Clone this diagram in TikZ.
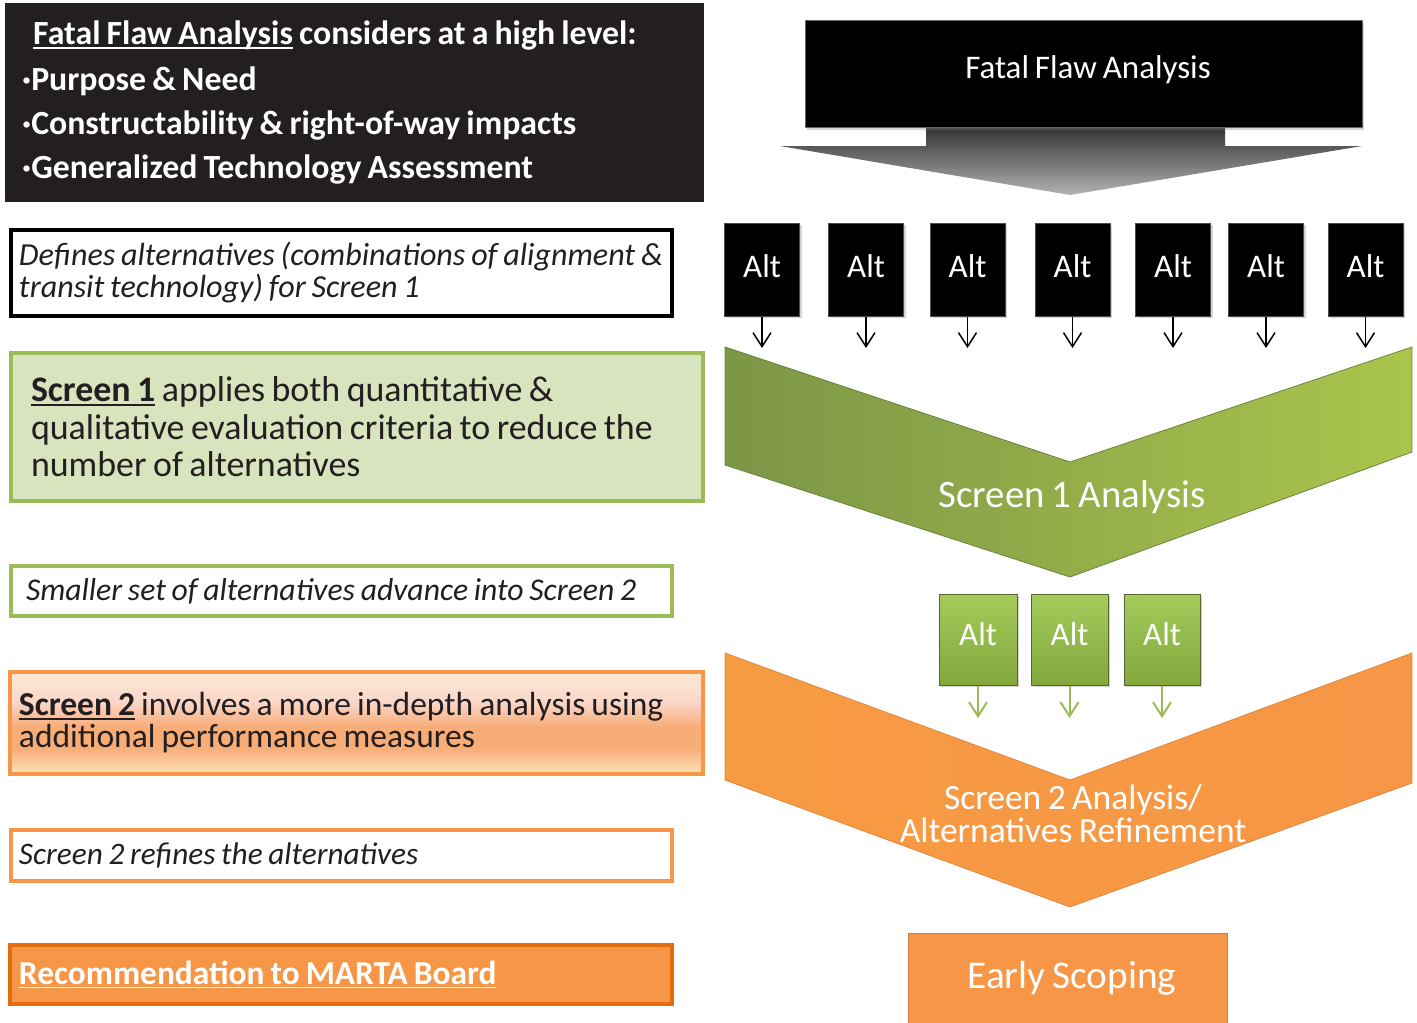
\documentclass[tikz,border=0pt]{standalone}
\usepackage{fontspec}
\setmainfont{Carlito}[WordSpace=0.8]
\usetikzlibrary{arrows.meta,shadows}
\newcommand\myul[1]{\setbox0\hbox{#1}\rlap{\rule[-4pt]{\wd0}{1.6pt}}\box0\relax}
\newcommand\natsp{\spaceskip=\fontdimen2\font\xspaceskip=\fontdimen2\font\relax}
\definecolor{charcoal}{HTML}{231F20}
\definecolor{grn}{HTML}{9BBB59}
\definecolor{grnfill}{HTML}{D7E4BD}
\definecolor{org}{HTML}{F79646}
\definecolor{orgdark}{HTML}{E46C0A}
\definecolor{txt}{HTML}{231F20}
\definecolor{galttop}{HTML}{A4CB5C}
\definecolor{galtbot}{HTML}{82A83C}
\definecolor{sa}{HTML}{FCEAD6}
\definecolor{sb}{HTML}{FAD6C8}
\definecolor{sc}{HTML}{F8AC76}
\definecolor{sd}{HTML}{FDE2BA}
\pgfdeclareverticalshading{stwoshade}{100bp}{color(0bp)=(sd); color(25bp)=(sd); color(38bp)=(sc); color(48bp)=(sc); color(60bp)=(sb); color(75bp)=(sa); color(100bp)=(sa)}
\begin{document}
\begin{tikzpicture}[x=1pt,y=-1pt,
  lbox/.style={rectangle, anchor=north west, align=left, text=txt, inner ysep=0pt},
  altbox/.style={rectangle, fill=black, draw=black!70, line width=1pt, minimum width=75pt, minimum height=93pt, drop shadow={opacity=0.35, shadow xshift=2pt, shadow yshift=-2pt}},
  galtbox/.style={rectangle, top color=galttop, bottom color=galtbot, draw=grn!55!black, line width=1pt, minimum height=91pt, drop shadow={opacity=0.35, shadow xshift=2pt, shadow yshift=-2pt}},
  alttext/.style={text=white, font=\fontsize{33}{35}\selectfont, inner sep=0pt},
  darr/.style={-{Straight Barb[length=14pt,width=18pt]}, line width=1.5pt, black},
  garr/.style={-{Straight Barb[length=14pt,width=18pt]}, line width=2pt, grn},
  wlabel/.style={text=white, align=center, inner sep=0pt}
]
\useasboundingbox (0,0) rectangle (1417,1023);

% ---------- left column ----------
\node[lbox, fill=charcoal, text=white, minimum width=699pt, minimum height=199pt, text width=665pt, inner xsep=17pt, font=\bfseries\fontsize{33.8}{44}\selectfont] (ffa) at (5,3)
{\natsp\hspace*{11pt}\myul{Fatal Flaw Analysis} considers at a high level:\\[2pt]
·Purpose \& Need\\
·Constructability \& right-of-way impacts\\
·Generalized Technology Assessment\\[-6pt]};

\node[lbox, draw=black, line width=4pt, minimum width=661pt, minimum height=86pt, text width=645pt, inner xsep=8pt, font=\itshape\fontsize{32.1}{32}\selectfont] (defs) at (9,228)
{\natsp Defines alternatives (combinations of alignment \&\\ transit technology) for Screen 1};

\node[lbox, draw=grn, fill=grnfill, line width=4pt, minimum width=692pt, minimum height=148pt, text width=652pt, inner xsep=20pt, font=\fontsize{35.9}{37.5}\selectfont] (s1) at (9,351)
{\natsp\textbf{\myul{Screen 1}} applies both quantitative \&\\ qualitative evaluation criteria to reduce the\\ number of alternatives};

\node[lbox, draw=grn, fill=white, line width=4pt, minimum width=661pt, minimum height=50pt, text width=631pt, inner xsep=15pt, font=\itshape\fontsize{31.7}{32}\selectfont] (small) at (9,564)
{\natsp Smaller set of alternatives advance into Screen 2};

\node[lbox, draw=org, line width=4pt, minimum width=693pt, minimum height=102pt, text width=675pt, inner xsep=9pt, shading=stwoshade, font=\fontsize{33.5}{32}\selectfont] (s2) at (8,670)
{\natsp\textbf{\myul{Screen 2}} involves a more in-depth analysis using\\ additional performance measures};

\node[lbox, draw=org, fill=white, line width=4pt, minimum width=661pt, minimum height=51pt, text width=645pt, inner xsep=8pt, font=\itshape\fontsize{31.3}{32}\selectfont] (refine) at (9,828)
{\natsp Screen 2 refines the alternatives};

\node[lbox, draw=orgdark, fill=org, text=white, line width=4pt, minimum width=662pt, minimum height=59pt, text width=644pt, inner xsep=9pt, font=\bfseries\fontsize{33.4}{34}\selectfont] (rec) at (8,943)
{\natsp\myul{Recommendation to MARTA Board}};

% ---------- right column ----------
\shade[top color=black!85, bottom color=black!30]
  (926,120) -- (926,146) -- (780,146) -- (1070,195) -- (1362,146) -- (1225,146) -- (1225,120) -- cycle;
\node[rectangle, fill=black, draw=black!60, line width=1pt, minimum width=557pt, minimum height=107pt, drop shadow={opacity=0.35, shadow xshift=2pt, shadow yshift=-3pt}] (ffbox) at (1083.5,73.5) {};
\node[wlabel, font=\fontsize{33}{34}\selectfont] (fftext) at (1088,70) {Fatal Flaw Analysis};

% green chevron
\shade[left color=grn!80!black, right color=grn!85!yellow, draw=grn!70!black, line width=0.8pt]
  (725,347) -- (1070,462) -- (1412,347) -- (1412,452) -- (1070,577) -- (725,465) -- cycle;
\node[wlabel, font=\fontsize{38.8}{40}\selectfont] (s1lab) at (1072,497) {Screen 1 Analysis};

% orange chevron
\shade[left color=org!95!yellow, right color=org, draw=org!90!black, line width=0.8pt]
  (725,653) -- (1070,780) -- (1412,653) -- (1412,783) -- (1070,907) -- (725,780) -- cycle;
\node[wlabel, font=\fontsize{35.5}{33}\selectfont] (s2lab) at (1073,814) {Screen 2 Analysis/\\Alternatives Refinement};

% black alt boxes
\foreach \i/\x in {1/762,2/866,3/967.5,4/1072.5,5/1173,6/1266,7/1365.5}{
  \node[altbox] (alt\i) at (\x,269.5) {};
  \node[alttext] (alttx\i) at (\x,266) {Alt};
  \coordinate (altend\i) at (\x,348);
  \draw[darr] (alt\i.south) -- (altend\i);
}

% green alt boxes
\foreach \i/\x/\w in {1/978/78,2/1069.5/77,3/1162/76}{
  \node[galtbox, minimum width=\w pt] (galt\i) at (\x,639.5) {};
  \node[alttext] (galttx\i) at (\x,634) {Alt};
  \coordinate (galtend\i) at (\x,718);
  \draw[garr] (galt\i.south) -- (galtend\i);
}

% early scoping
\node[rectangle, fill=org, draw=org!85!black, line width=1pt, minimum width=319pt, minimum height=92pt, anchor=north] (early) at (1067.5,933) {};
\node[wlabel, font=\fontsize{39.3}{40}\selectfont] (earlytx) at (1072,978) {Early Scoping};
\end{tikzpicture}
\end{document}
